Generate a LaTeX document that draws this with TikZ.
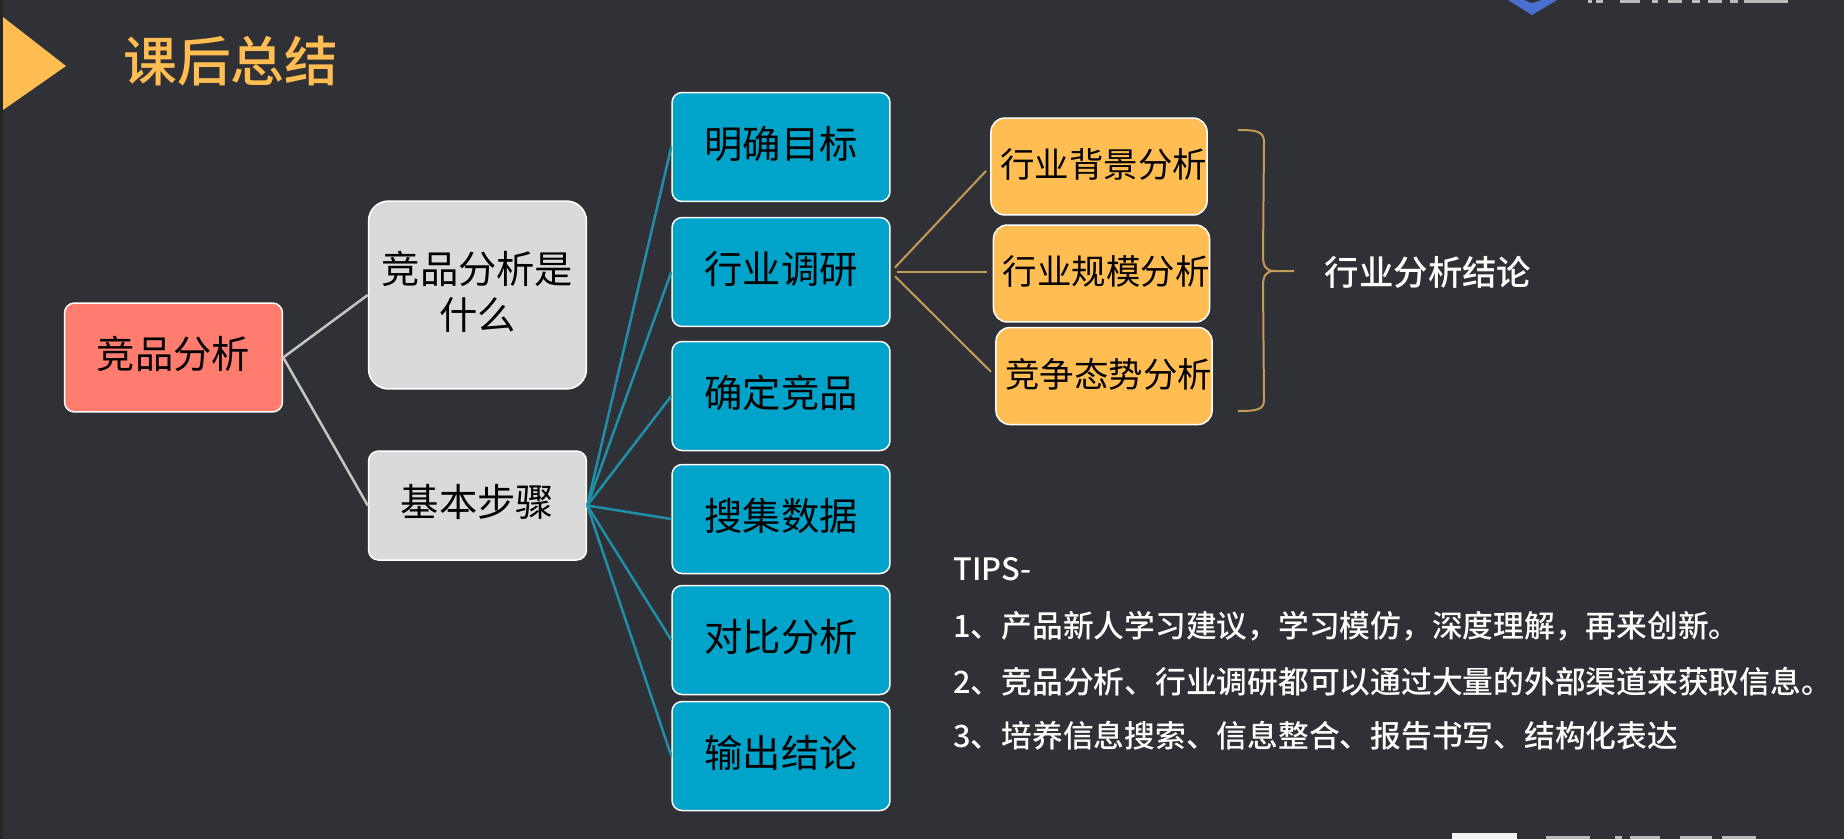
\documentclass[tikz,border=0pt]{standalone}
\usepackage{fontspec}
\setmainfont{Noto Sans CJK SC}
\newfontfamily\semifont{Noto Sans CJK SC Medium}
\usepackage{xcolor}
\usetikzlibrary{arrows.meta,positioning,calc}
\definecolor{slatebg}{HTML}{303136}
\definecolor{titleorange}{HTML}{FFBD52}
\definecolor{stepblue}{HTML}{00A3C9}
\definecolor{rootsalmon}{HTML}{FF7C6E}
\definecolor{topicgray}{HTML}{DBDADB}
\definecolor{tealline}{HTML}{1F8FA8}
\definecolor{tanline}{HTML}{C49A58}
\definecolor{logoblue}{HTML}{4A6FD0}
\definecolor{logogray}{HTML}{B9B9BC}
\tikzset{
  rootbox/.style={draw=white,line width=0.03cm,fill=rootsalmon,rounded corners=0.2cm,align=center,
    minimum width=4.36cm,minimum height=2.18cm,inner sep=0pt,text depth=5.4pt,
    font=\fontsize{21.8}{26}\selectfont,text=black},
  topicbox/.style={rootbox,fill=topicgray},
  stepbox/.style={rootbox,fill=stepblue},
  industrybox/.style={rootbox,fill=titleorange,minimum width=4.32cm,minimum height=1.94cm,
    rounded corners=0.28cm,text depth=3.6pt,font=\fontsize{19.6}{24}\selectfont,
    execute at begin node={\hspace*{0.19cm}}},
  tipline/.style={anchor=west,inner sep=0pt,text=white,font=\fontsize{17.5}{21}\semifont},
  grayline/.style={draw=topicgray!90!black,line width=0.05cm},
  bluelink/.style={draw=tealline,line width=0.05cm},
  orangelink/.style={draw=tanline,line width=0.04cm,shorten <=0.12cm,shorten >=0.12cm},
  bracelink/.style={draw=tanline,line width=0.04cm}
}
\begin{document}
\begin{tikzpicture}[x=0.02cm,y=-0.02cm]
  \fill[slatebg] (0,0) rectangle (1844,839);
  \useasboundingbox (0,0) rectangle (1844,839);
  \fill[black!85] (0,0) rectangle (3,839);

  \fill[titleorange] (3,17) -- (66,66) -- (3,110) -- cycle;
  \node[anchor=west,inner sep=0pt,text=titleorange,font=\fontsize{30.6}{36}\semifont] (title) at (123,61) {课后总结};

  \node[rootbox] (root) at (173.5,357.5) {竞品分析};
  \node[topicbox,minimum height=3.76cm,rounded corners=0.4cm] (what) at (477.5,295) {竞品分析是\\什么};
  \node[topicbox] (basic) at (477.5,505.5) {基本步骤};

  \node[stepbox] (goal) at (781,147) {明确目标};
  \node[stepbox] (survey) at (781,272) {行业调研};
  \node[stepbox] (pick) at (781,396) {确定竞品};
  \node[stepbox] (collect) at (781,519) {搜集数据};
  \node[stepbox] (compare) at (781,640) {对比分析};
  \node[stepbox] (output) at (781,756) {输出结论};

  \node[industrybox] (background) at (1099,166.5) {行业背景分析};
  \node[industrybox] (scale) at (1101.5,273.5) {行业规模分析};
  \node[industrybox] (rivalry) at (1104,376) {竞争态势分析};
  \node[text=white,inner sep=0pt,font=\fontsize{19.6}{24}\semifont] (verdict) at (1428,272) {行业分析结论};

  \draw[grayline] (root.east) -- (what.west);
  \draw[grayline] (root.east) -- (basic.west);
  \foreach \n in {goal,survey,pick,collect,compare,output}
    \draw[bluelink] (basic.east) -- (\n.west);
  \foreach \n in {background,rivalry}
    \draw[orangelink] (survey.east) -- (\n.west);
  \draw[orangelink] (survey.east) -- (survey.east -| scale.west);

  \coordinate (bracetop) at (1238,130);
  \coordinate (bracebot) at (1238,411);
  \coordinate (bracetip) at (1294,271);
  \draw[bracelink] (bracetop) .. controls (1256,130) and (1264,131) .. (1264,142) -- (1263,256)
    .. controls (1263,266) and (1266,271) .. (1274,271) -- (bracetip);
  \draw[bracelink] (bracebot) .. controls (1256,411) and (1264,410) .. (1264,400) -- (1263,286)
    .. controls (1263,276) and (1266,271) .. (1274,271);

  \node[tipline] (tip0) at (953,569) {TIPS-};
  \node[tipline] (tip1) at (953,626) {1、产品新人学习建议，学习模仿，深度理解，再来创新。};
  \node[tipline] (tip2) at (953,682) {2、竞品分析、行业调研都可以通过大量的外部渠道来获取信息。};
  \node[tipline] (tip3) at (953,736) {3、培养信息搜索、信息整合、报告书写、结构化表达};

  \fill[logoblue] (1508,0) -- (1532,15) -- (1557,0) -- cycle;
  \fill[slatebg] (1524,0) -- (1532,3) -- (1541,0) -- cycle;
  \foreach \a/\b in {1588/1592,1596/1603,1620/1640,1652/1658,1668/1682,1692/1700,1708/1722,1730/1738}
    \fill[logogray] (\a,0) rectangle (\b,3);
  \fill[logogray] (1744,0) rectangle (1788,2.5);
  \fill[white!90!gray] (1452,833) rectangle (1517,839);
  \foreach \a/\b in {1546/1590,1615/1622,1630/1660,1680/1712,1722/1756}
    \fill[logogray] (\a,836) rectangle (\b,839);
\end{tikzpicture}
\end{document}
